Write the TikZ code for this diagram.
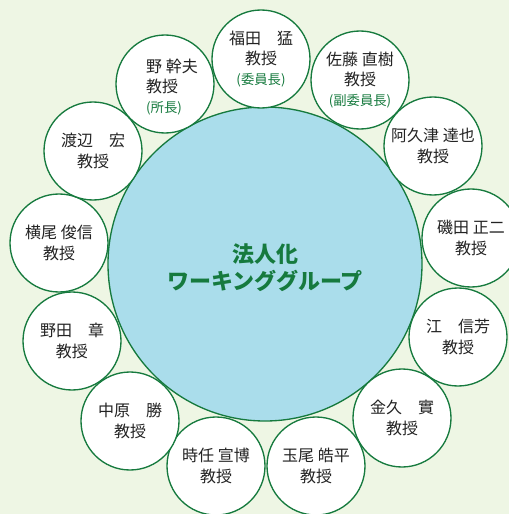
\documentclass[tikz,border=0pt]{standalone}
\usepackage{fontspec}
\newfontfamily\jp{Noto Sans CJK JP}
\definecolor{bgg}{RGB}{238,246,228}
\definecolor{dg}{RGB}{22,122,62}
\definecolor{lb}{RGB}{170,221,235}
\definecolor{tx}{RGB}{35,35,35}
\tikzset{
  member/.style={circle, draw=dg, line width=1pt, fill=white, minimum size=73.5pt,
    inner sep=0pt, font=\jp\fontsize{12}{15.5}\selectfont, text=tx, align=center},
  nametext/.style={inner sep=0pt, font=\jp\fontsize{12}{15.5}\selectfont, text=tx},
  hub/.style={circle, draw=dg, line width=1pt, fill=lb, minimum size=235.5pt, inner sep=0pt},
  hubtext/.style={inner sep=0pt, font=\jp\bfseries\fontsize{16.5}{20.5}\selectfont, text=dg, align=center}
}
\newcommand{\roletxt}[1]{{\color{dg}\fontsize{10}{12}\selectfont(#1)}}
\begin{document}
\begin{tikzpicture}[x=0.75pt,y=-0.75pt]
\useasboundingbox (0,0) rectangle (509,514);
\fill[bgg] (0,0) rectangle (509,514);
\node[hub] (wg) at (265,264) {};
\node[hubtext] (wgtext) at (265,268) {法人化\\ワーキンググループ};
\node[member] (fukuda) at (261,59) {福田　猛\\教授\\[-0.5pt]\roletxt{委員長}};
\node[member] (sato) at (360,80) {佐藤 直樹\\教授\\[-0.5pt]\roletxt{副委員長}};
\node[member] (no) at (165,84) {};
\node[nametext, align=left] (notext) at (172,87) {野 幹夫\\教授\\[-0.5pt]\roletxt{所長}};
\node[member] (akutsu) at (433,146) {阿久津 達也\\教授};
\node[member] (isoda) at (471,238) {磯田 正二\\教授};
\node[member] (e) at (458,337) {江　信芳\\教授};
\node[member] (kanehisa) at (402,418) {金久　實\\教授};
\node[member] (tamao) at (316,466) {玉尾 皓平\\教授};
\node[member] (tokitoh) at (216,466) {時任 宣博\\教授};
\node[member] (nakahara) at (130,421) {中原　勝\\教授};
\node[member] (noda) at (72,341) {野田　章\\教授};
\node[member] (yokoo) at (59,243) {横尾 俊信\\教授};
\node[member] (watanabe) at (93,151) {渡辺　宏\\教授};
\end{tikzpicture}
\end{document}
